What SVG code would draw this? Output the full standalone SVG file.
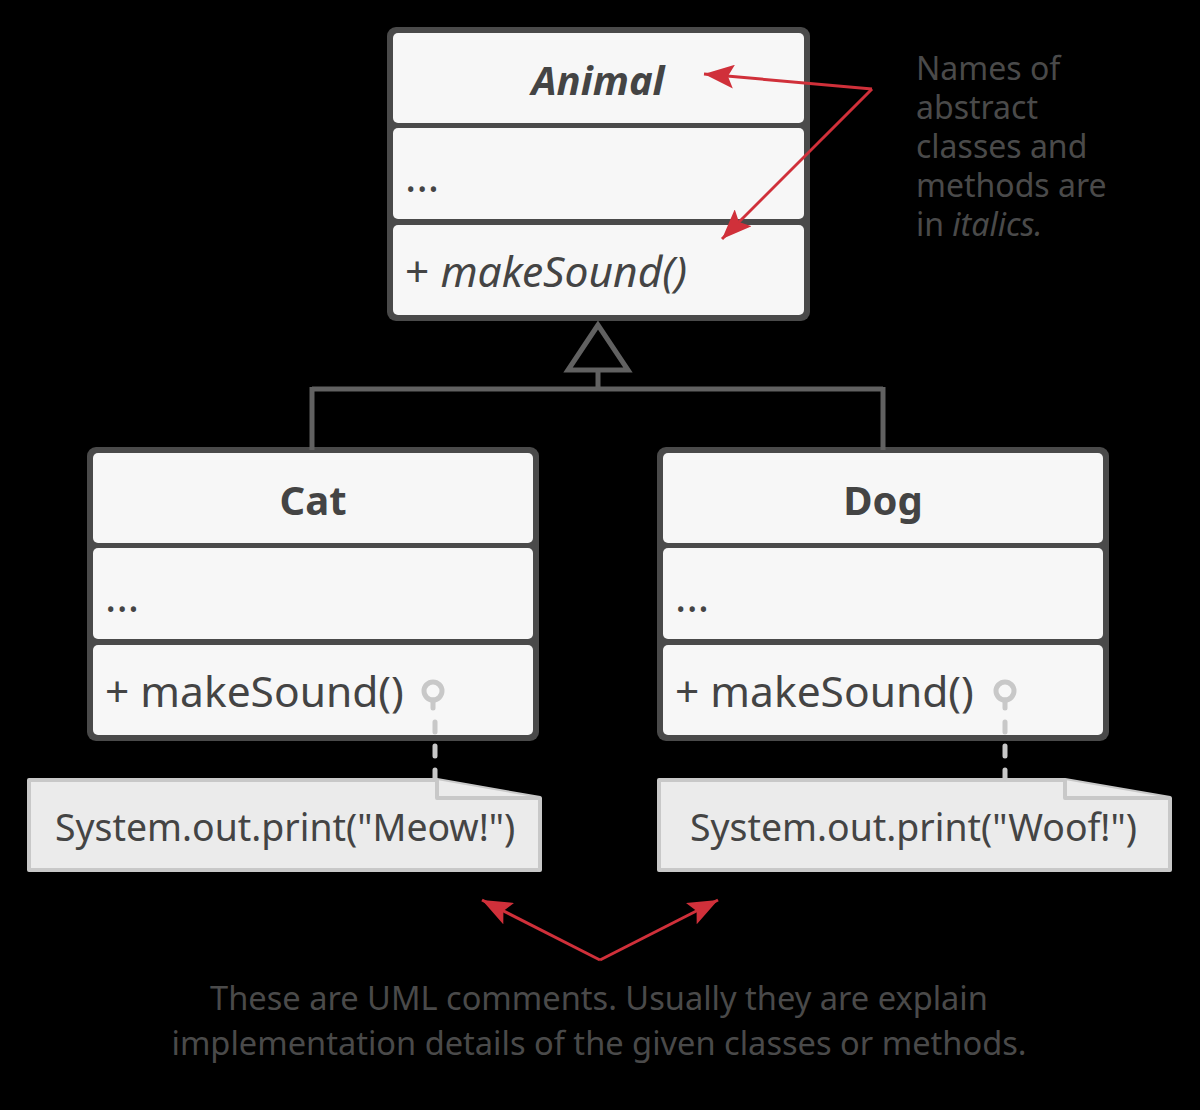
<svg xmlns="http://www.w3.org/2000/svg" width="1200" height="1110" viewBox="0 0 1200 1110">
<defs>
<style>
.frame{fill:#4a4a4a}
.comp{fill:#f7f7f7}
.t{font-family:"Noto Sans","Open Sans",sans-serif;fill:#444444}
.title{font-size:40px;font-weight:bold;text-anchor:middle}
.member{font-size:42.5px}
.note{fill:#ebebeb;stroke:#c8c8c8;stroke-width:4;stroke-linejoin:round}
.notetext{font-size:37.4px}
.gen{fill:none;stroke:#616161;stroke-width:5}
.pin{fill:none;stroke:#c8c8c8;stroke-width:5;stroke-linecap:round}
.dash{fill:none;stroke:#c8c8c8;stroke-width:5;stroke-linecap:round;stroke-dasharray:10 14}
.red{fill:none;stroke:#d0303a;stroke-width:3}
.cap{font-size:32px;fill:#4a4a4a}
.capwide{font-size:32.6px;text-anchor:middle}
</style>
<marker id="ah" viewBox="0 0 30 24" refX="30" refY="12" markerWidth="30" markerHeight="24" markerUnits="userSpaceOnUse" orient="auto">
<path d="M0,0 L30,12 L0,24 L6,12 Z" fill="#d0303a"/>
</marker>
</defs>
<rect width="1200" height="1110" fill="#000000"/>

<g id="animal">
<rect class="frame" x="387" y="27" width="423" height="294" rx="9"/>
<rect class="comp" x="393" y="33" width="411" height="90" rx="5"/>
<rect class="comp" x="393" y="128" width="411" height="91" rx="5"/>
<rect class="comp" x="393" y="225" width="411" height="90" rx="5"/>
<text class="t title" x="598" y="95" font-style="italic">Animal</text>
<text class="t member" x="405" y="192">...</text>
<text class="t member" x="405" y="287">+ <tspan font-style="italic">makeSound()</tspan></text>
</g>

<g id="cat">
<rect class="frame" x="87" y="447" width="452" height="294" rx="9"/>
<rect class="comp" x="93" y="453" width="440" height="90" rx="5"/>
<rect class="comp" x="93" y="548" width="440" height="91" rx="5"/>
<rect class="comp" x="93" y="645" width="440" height="90" rx="5"/>
<text class="t title" x="313" y="515">Cat</text>
<text class="t member" x="105" y="612">...</text>
<text class="t member" x="105" y="707">+ makeSound()</text>
<circle class="pin" cx="433" cy="691" r="9"/>
<path class="pin" d="M433,700 L433,708"/>
</g>

<g id="dog">
<rect class="frame" x="657" y="447" width="452" height="294" rx="9"/>
<rect class="comp" x="663" y="453" width="440" height="90" rx="5"/>
<rect class="comp" x="663" y="548" width="440" height="91" rx="5"/>
<rect class="comp" x="663" y="645" width="440" height="90" rx="5"/>
<text class="t title" x="883" y="515">Dog</text>
<text class="t member" x="675" y="612">...</text>
<text class="t member" x="675" y="707">+ makeSound()</text>
<circle class="pin" cx="1005" cy="691" r="9"/>
<path class="pin" d="M1005,700 L1005,708"/>
</g>

<g id="cat-note">
<path class="note" d="M29,780 L437,780 L540,798 L540,870 L29,870 Z"/>
<path class="note" d="M437,780 L437,798 L540,798" fill="none"/>
<text class="t notetext" x="55" y="841">System.out.print("Meow!")</text>
</g>

<g id="dog-note">
<path class="note" d="M659,780 L1065,780 L1170,798 L1170,870 L659,870 Z"/>
<path class="note" d="M1065,780 L1065,798 L1170,798" fill="none"/>
<text class="t notetext" x="690" y="841">System.out.print("Woof!")</text>
</g>

<g id="abstract-note">
<text class="t cap" x="916" y="80">Names of</text>
<text class="t cap" x="916" y="119">abstract</text>
<text class="t cap" x="916" y="158">classes and</text>
<text class="t cap" x="916" y="197">methods are</text>
<text class="t cap" x="916" y="236">in <tspan font-style="italic">italics.</tspan></text>
</g>

<g id="comment-caption">
<text class="t cap capwide" x="599" y="1010">These are UML comments. Usually they are explain</text>
<text class="t cap capwide" x="599" y="1055">implementation details of the given classes or methods.</text>
</g>

<g id="connectors">
<path class="gen" d="M598,325 L568,370 L628,370 Z"/>
<path class="gen" d="M598,370 L598,389 M312,389 L883,389 M312,387 L312,450 M883,387 L883,450"/>
<path class="red" d="M872,89 L704,74" marker-end="url(#ah)"/>
<path class="red" d="M872,89 L722,239" marker-end="url(#ah)"/>
<path class="red" d="M600,960 L482,900" marker-end="url(#ah)"/>
<path class="red" d="M600,960 L718,900" marker-end="url(#ah)"/>
<path class="dash" d="M435,722 L435,778"/>
<path class="dash" d="M1005,722 L1005,778"/>
</g>
</svg>
